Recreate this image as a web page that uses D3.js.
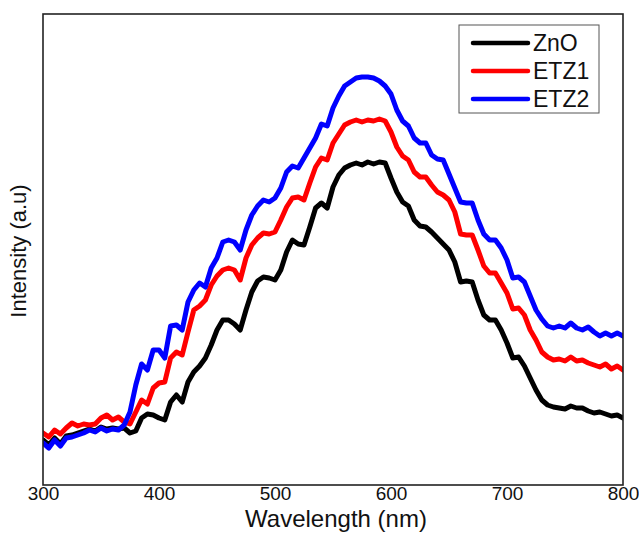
<!DOCTYPE html>
<html>
<head>
<meta charset="utf-8">
<script src="https://cdn.jsdelivr.net/npm/d3@7"></script>
<style>
  html, body { margin: 0; padding: 0; background: #fff; }
  svg { display: block; font-family: "Liberation Sans", Arial, sans-serif; }
</style>
</head>
<body>
<svg id="chart" width="639" height="536"></svg>
<script>
const wavelength = [300,305,310,315,320,325,330,335,340,345,350,355,360,365,370,375,380,385,390,395,
  400,405,410,415,420,425,430,435,440,445,450,455,460,465,470,475,480,485,490,495,
  500,505,510,515,520,525,530,535,540,545,550,555,560,565,570,575,580,585,590,595,
  600,605,610,615,620,625,630,635,640,645,650,655,660,665,670,675,680,685,690,695,
  700,705,710,715,720,725,730,735,740,745,750,755,760,765,770,775,780,785,790,795,800];

const znO = [45,40,47,41,49,50,52,54,56,54,58,56,57,56,57,52,54,67,71,70,
  67,65,83,90,83,103,113,119,127,140,155,165,165,161,155,175,193,204,208,207,
  205,215,233,245,241,240,258,277,282,277,298,310,317,320,322,320,323,321,323,322,
  307,293,283,279,265,259,258,253,247,241,235,223,203,204,203,185,170,165,165,155,
  142,127,128,119,107,95,85,80,78,77,76,79,77,77,74,72,73,71,69,70,67];

const etz1 = [52,48,55,51,57,62,59,61,60,61,67,70,65,68,63,61,73,85,81,97,
  102,103,127,133,130,153,175,179,185,200,209,215,217,215,205,227,240,247,252,251,
  253,265,278,287,288,285,302,318,327,325,342,351,360,363,365,363,365,364,366,364,
  353,338,329,325,313,308,308,300,293,290,285,273,251,250,250,235,219,212,212,202,
  192,176,177,170,155,145,133,128,125,126,124,128,124,125,122,120,118,121,116,119,115];

const etz2 = [42,37,45,39,47,48,50,52,55,53,57,54,56,55,60,73,100,121,115,135,
  135,127,159,160,155,183,195,202,198,217,227,243,245,243,235,255,270,279,285,283,
  287,297,313,319,317,327,337,347,361,359,377,389,399,403,407,408,408,407,404,399,
  391,375,364,359,347,342,342,330,326,325,311,297,283,282,282,265,251,245,245,237,
  225,207,208,203,189,175,166,159,157,159,157,162,157,155,158,153,149,152,149,152,149];

const seriesNames = ["ZnO", "ETZ1", "ETZ2"];
const seriesColors = ["#000000", "#ff0000", "#0000ff"];
const seriesValues = [znO, etz1, etz2];
const xTicks = [300, 400, 500, 600, 700, 800];

(function () {
const svg = d3.select("#chart");
const pL = 43, pR = 623, pT = 14, pB = 485;

const x = d3.scaleLinear().domain([300, 800]).range([pL, pR]);
const y = d3.scaleLinear().domain([0, 471]).range([pB, pT]);

const plot = svg.append("g");
svg.append("clipPath").attr("id", "clip")
  .append("rect").attr("x", pL).attr("y", pT).attr("width", pR - pL).attr("height", pB - pT);

const line = d3.line().x(d => x(d[0])).y(d => y(d[1]));

seriesValues.forEach((vals, i) => {
  const pts = wavelength.map((w, j) => [w, vals[j]]);
  plot.append("path")
    .attr("clip-path", "url(#clip)")
    .attr("d", line(pts))
    .attr("fill", "none")
    .attr("stroke", seriesColors[i])
    .attr("stroke-width", 5)
    .attr("stroke-linejoin", "round")
    .attr("stroke-linecap", "round");
});

// frame
svg.append("rect")
  .attr("x", pL).attr("y", pT)
  .attr("width", pR - pL).attr("height", pB - pT)
  .attr("fill", "none").attr("stroke", "#222").attr("stroke-width", 1.6);

// x axis
const xAxis = d3.axisBottom(x).tickValues(xTicks).tickSize(0).tickPadding(0);
const gx = svg.append("g").attr("transform", `translate(0,${pB})`).call(xAxis);
gx.select(".domain").remove();
gx.selectAll("text")
  .attr("dy", null).attr("y", 15)
  .attr("font-size", 19).attr("font-family", "Liberation Sans, Arial, sans-serif")
  .attr("fill", "#111");

svg.append("text")
  .attr("x", 336).attr("y", 527)
  .attr("text-anchor", "middle")
  .attr("font-size", 24).attr("fill", "#111")
  .text("Wavelength (nm)");

svg.append("text")
  .attr("transform", "translate(26,251) rotate(-90)")
  .attr("text-anchor", "middle")
  .attr("font-size", 22).attr("fill", "#111")
  .text("Intensity (a.u)");

// legend
const lg = svg.append("g");
lg.append("rect").attr("x", 459).attr("y", 25).attr("width", 140).attr("height", 88)
  .attr("fill", "#fff").attr("stroke", "#555").attr("stroke-width", 1);
seriesNames.forEach((name, i) => {
  const cy = 43 + i * 28;
  lg.append("line").attr("x1", 473).attr("x2", 528).attr("y1", cy).attr("y2", cy)
    .attr("stroke", seriesColors[i]).attr("stroke-width", 4.5).attr("stroke-linecap", "round");
  lg.append("text").attr("x", 533).attr("y", cy + 8)
    .attr("font-size", 23).attr("fill", "#111").text(name);
});
})();
</script>
</body>
</html>
